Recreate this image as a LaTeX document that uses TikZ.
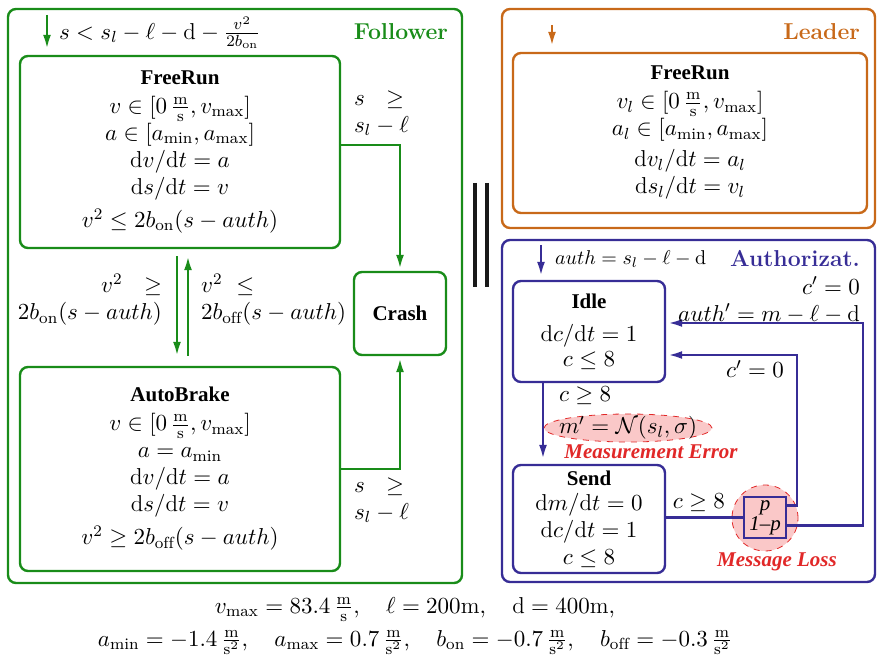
\RequirePackage{fix-cm}
\documentclass[tikz,border=0pt]{standalone}
\usepackage{amsmath,amssymb}
\usepackage{fontspec}
\newfontfamily\tmsf{Liberation Serif}
\usetikzlibrary{arrows.meta,shapes.geometric,calc}
\definecolor{folgreen}{RGB}{25,140,25}
\definecolor{leadorange}{RGB}{200,105,25}
\definecolor{authblue}{RGB}{55,45,150}
\definecolor{errred}{RGB}{225,40,40}
\definecolor{errfill}{RGB}{250,200,200}
\newcommand{\locname}[1]{{\fontsize{10.5}{12.5}\tmsf\bfseries #1}}
\newcommand{\unitms}{\frac{\mathrm{m}}{\mathrm{s}}}
\newcommand{\unitmss}{\frac{\mathrm{m}}{\mathrm{s}^2}}

\begin{document}
\begin{tikzpicture}[x=0.5pt, y=-0.5pt,
  font=\fontsize{11.5}{13.5}\selectfont,
  grp/.style={draw, line width=1.2pt, rounded corners=4pt, inner sep=0pt},
  grptitle/.style={font=\fontsize{11.5}{13.5}\selectfont\bfseries, anchor=east},
  loc/.style={draw, line width=1.2pt, rounded corners=4pt, align=center, inner sep=2pt},
  arr/.style={-{Latex[length=7pt,width=4pt]}, line width=1.2pt, shorten >=1pt},
  errlbl/.style={text=errred, font=\fontsize{10.5}{12.5}\tmsf\bfseries\itshape},
]
\useasboundingbox (0,0) rectangle (877,656);

% Follower
\node[grp, draw=folgreen, minimum width=227pt, minimum height=287pt] (follower) at (235,296) {};
\node[grptitle, text=folgreen] (foltitle) at (455,32) {Follower};
\coordinate (finit) at (47,15);
\node[anchor=west] (finitlbl) at (52,33) {$s < s_l - \ell - \mathrm{d} - \frac{v^2}{2b_{\mathrm{on}}}$};

\node[loc, draw=folgreen, minimum width=160pt, minimum height=96pt] (fr) at (180,152)
  {\locname{FreeRun}\\[1pt]
   $v \in [0\,\unitms, v_{\max}]$\\
   $a \in [a_{\min}, a_{\max}]$\\
   $\mathrm{d}v/\mathrm{d}t = a$\\
   $\mathrm{d}s/\mathrm{d}t = v$\\[3pt]
   $v^2 \leq 2b_{\mathrm{on}}(s - auth)$};
\node[loc, draw=folgreen, minimum width=160pt, minimum height=102pt] (ab) at (180,469)
  {\locname{AutoBrake}\\[1pt]
   $v \in [0\,\unitms, v_{\max}]$\\
   $a = a_{\min}$\\
   $\mathrm{d}v/\mathrm{d}t = a$\\
   $\mathrm{d}s/\mathrm{d}t = v$\\[3pt]
   $v^2 \geq 2b_{\mathrm{off}}(s - auth)$};
\node[loc, draw=folgreen, minimum width=46pt, minimum height=41.5pt] (crash) at (400,313.5) {\locname{Crash}};

\draw[arr, folgreen, shorten >=3pt] (finit) -- (finit |- fr.north);
\draw[arr, folgreen] ([yshift=3.5pt]fr.east) -| (crash.north);
\draw[arr, folgreen] (ab.east) -| (crash.south);
\draw[arr, folgreen, shorten <=3.5pt, shorten >=5pt] ([xshift=-1.5pt]fr.south) -- ([xshift=-1.5pt]ab.north);
\draw[arr, folgreen, shorten <=5pt, shorten >=3.5pt] ([xshift=4pt]ab.north) -- ([xshift=4pt]fr.south);

\node[anchor=west, align=left] (frcrashlbl) at (347,113) {$s\ \ \geq$\\$s_l - \ell$};
\node[anchor=west, align=left] (abcrashlbl) at (347,500) {$s\ \ \geq$\\$s_l - \ell$};
\node[anchor=east, align=right] (brakelbl) at (169,300) {$v^2\ \ \geq$\\$2b_{\mathrm{on}}(s - auth)$};
\node[anchor=west, align=left] (releaselbl) at (194,300) {$v^2\ \leq$\\$2b_{\mathrm{off}}(s - auth)$};

% parallel composition
\draw[line width=2pt, black!90] (475,183) -- (475,287) (487,183) -- (487,287);

% Leader
\node[grp, draw=leadorange, minimum width=186.5pt, minimum height=109.5pt] (leader) at (688.5,118.5) {};
\node[grptitle, text=leadorange] (leadtitle) at (867,32) {Leader};
\coordinate (linit) at (552,25);
\node[loc, draw=leadorange, minimum width=177pt, minimum height=80pt] (lfr) at (690,133)
  {\locname{FreeRun}\\[1pt]
   $v_l \in [0\,\unitms, v_{\max}]$\\
   $a_l \in [a_{\min}, a_{\max}]$\\[2pt]
   $\mathrm{d}v_l/\mathrm{d}t = a_l$\\
   $\mathrm{d}s_l/\mathrm{d}t = v_l$};
\draw[arr, leadorange, shorten >=3pt] (linit) -- (linit |- lfr.north);

% Authorization
\node[grp, draw=authblue, minimum width=186.5pt, minimum height=171pt] (auth) at (688.5,411) {};
\node[grptitle, text=authblue] (authtitle) at (867,259) {Authorizat.};
\coordinate (ainit) at (541,245);
\node[anchor=west, font=\fontsize{10}{12}\selectfont] (ainitlbl) at (548,259) {$auth = s_l - \ell - \mathrm{d}$};

\node[loc, draw=authblue, minimum width=76pt, minimum height=50.5pt] (idle) at (589,331.5)
  {\locname{Idle}\\[3pt]
   $\mathrm{d}c/\mathrm{d}t = 1$\\[-1pt]
   $c \leq 8$};
\node[loc, draw=authblue, minimum width=76pt, minimum height=54pt] (send) at (589,519)
  {\locname{Send}\\[-1pt]
   $\mathrm{d}m/\mathrm{d}t = 0$\\
   $\mathrm{d}c/\mathrm{d}t = 1$\\
   $c \leq 8$};
\draw[arr, authblue, shorten >=2pt] (ainit) -- (ainit |- idle.north);

\draw[arr, authblue, shorten >=2.5pt] ([xshift=-23pt]idle.south) -- ([xshift=-23pt]send.north);
\node[anchor=west] (measlbl) at (552,396) {$c \geq 8$};
\node[ellipse, draw=errred, dashed, fill=errfill, minimum width=84pt, minimum height=14pt, inner xsep=-6pt, inner ysep=-1pt] (meas) at (628,428) {$m' = \mathcal{N}(s_l, \sigma)$};
\node[errlbl] (measerr) at (651,452) {Measurement Error};

\node[circle, draw=errred, dashed, fill=errfill, minimum size=33pt, inner sep=0pt] (loss) at (765,518) {};
\node[draw=authblue, fill=errfill, line width=1.2pt, minimum width=21pt, minimum height=20.5pt, inner sep=0pt, align=center, font=\fontsize{10.5}{9}\tmsf\itshape] (prob) at (765,517.5)
  {p\\1\textendash p};
\node[errlbl] (losslbl) at (777,562) {Message Loss};

\draw[authblue, line width=1.2pt] (prob.west -| send.east) -- (prob.west);
\node[anchor=east] (sendlbl) at (732,503) {$c \geq 8$};

\coordinate (rup) at (797,355);
\coordinate (rlo) at (863,323);
\draw[arr, authblue] ([yshift=6pt]prob.east) -| (rup) -- (rup -| idle.east);
\draw[arr, authblue] ([yshift=-4pt]prob.east) -| (rlo) -- (rlo -| idle.east);
\node[anchor=east] (lostlbl) at (791,369) {$c' = 0$};
\node[anchor=east, align=right] (recvlbl) at (867,300) {$c' = 0$\\$auth' = m - \ell - \mathrm{d}$};

% constants
\node[align=center] (consts) at (415,626)
  {$v_{\max} = 83.4\,\unitms,\ \ \ \ell = 200\mathrm{m},\ \ \ \mathrm{d} = 400\mathrm{m},$\\[3pt]
   $a_{\min} = -1.4\,\unitmss,\ \ \ a_{\max} = 0.7\,\unitmss,\ \ \ b_{\mathrm{on}} = -0.7\,\unitmss,\ \ \ b_{\mathrm{off}} = -0.3\,\unitmss$};
\end{tikzpicture}
\end{document}
